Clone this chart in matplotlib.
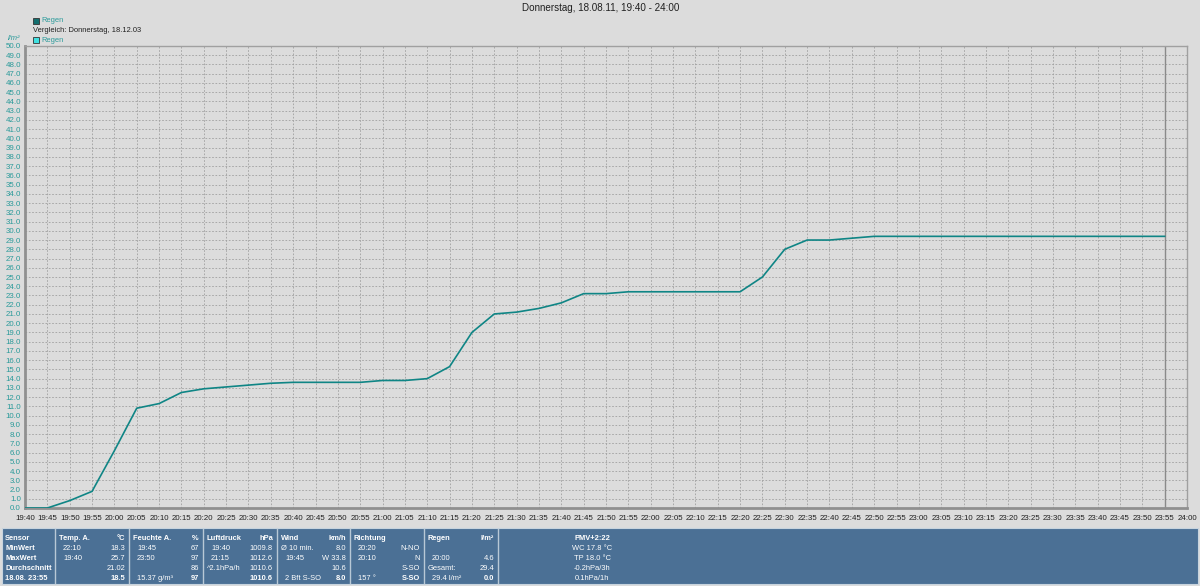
# Imports
import matplotlib
matplotlib.use("Agg")
import matplotlib.pyplot as plt
from matplotlib.patches import Rectangle

# Data
tick_labels = ["19:40", "19:45", "19:50", "19:55", "20:00", "20:05", "20:10", "20:15",
               "20:20", "20:25", "20:30", "20:35", "20:40", "20:45", "20:50", "20:55",
               "21:00", "21:05", "21:10", "21:15", "21:20", "21:25", "21:30", "21:35",
               "21:40", "21:45", "21:50", "21:55", "22:00", "22:05", "22:10", "22:15",
               "22:20", "22:25", "22:30", "22:35", "22:40", "22:45", "22:50", "22:55",
               "23:00", "23:05", "23:10", "23:15", "23:20", "23:25", "23:30", "23:35",
               "23:40", "23:45", "23:50", "23:55", "24:00"]
rain = [0.0, 0.0, 0.8, 1.8, 6.2, 10.8, 11.3, 12.5, 12.9, 13.1, 13.3, 13.5,
        13.6, 13.6, 13.6, 13.6, 13.8, 13.8, 14.0, 15.3, 19.0, 21.0, 21.2, 21.6,
        22.2, 23.2, 23.2, 23.4, 23.4, 23.4, 23.4, 23.4, 23.4, 25.0, 28.0, 29.0,
        29.0, 29.2, 29.4, 29.4, 29.4, 29.4, 29.4, 29.4, 29.4, 29.4, 29.4, 29.4,
        29.4, 29.4, 29.4, 29.4]
y_ticks = [i * 1.0 for i in range(51)]
now_label = "23:55"

# info panel columns: first entry is the header, each entry = (left, right)
panel_cols = [
    [("Temp. A.", "°C"), ("22:10", "18.3"), ("19:40", "25.7"), ("", "21.02"), ("", "18.5")],
    [("Feuchte A.", "%"), ("19:45", "67"), ("23:50", "97"), ("", "86"), ("15.37 g/m³", "97")],
    [("Luftdruck", "hPa"), ("19:40", "1009.8"), ("21:15", "1012.6"), ("^2.1hPa/h", "1010.6"), ("", "1010.6")],
    [("Wind", "km/h"), ("Ø 10 min.", "8.0"), ("19:45", "W 33.8"), ("", "10.6"), ("2 Bft S-SO", "8.0")],
    [("Richtung", ""), ("20:20", "N-NO"), ("20:10", "N"), ("", "S-SO"), ("157 °", "S-SO")],
    [("Regen", "l/m²"), ("", ""), ("20:00", "4.6"), ("Gesamt:", "29.4"), ("29.4 l/m²", "0.0")],
]
row_names = ["Sensor", "MinWert", "MaxWert", "Durchschnitt", "18.08. 23:55"]
extra_lines = ["PMV+2:22", "WC 17.8 °C", "TP 18.0 °C", "-0.2hPa/3h", "0.1hPa/1h"]

# Style
W, H = 1200, 586
BG = "#dcdcdc"
TEAL = "#0f8585"
TEAL_TXT = "#2a9a9a"
PANEL = "#4b7095"
FS_TICK = 5.7
FS = 5.4
plt.rcParams['font.family'] = ['Liberation Sans', 'DejaVu Sans']


def fx(x):
    return x / W


def fy(y):
    return 1 - y / H


fig = plt.figure(figsize=(W / 100, H / 100), dpi=100, facecolor=BG)
ax = fig.add_axes([fx(25), fy(508), fx(1187) - fx(25), fy(46) - fy(508)], facecolor=BG)

x = list(range(len(rain)))
ax.plot(x, rain, color=TEAL, lw=1.2, zorder=3)
ax.axvline(tick_labels.index(now_label), color="#8a8a8a", lw=1.0, zorder=2)

ax.set_xlim(0, len(tick_labels) - 1)
ax.set_ylim(0, 50)
ax.set_xticks(range(len(tick_labels)))
ax.set_xticklabels(tick_labels, fontsize=FS_TICK, color="#202020")
ax.set_yticks(y_ticks)
ax.set_yticklabels(["%.1f" % v for v in y_ticks], fontsize=FS_TICK, color=TEAL_TXT)
ax.tick_params(length=0)
ax.tick_params(axis="x", pad=5)
ax.tick_params(axis="y", pad=3)
ax.grid(True, color="#a0a0a0", lw=0.6, linestyle=(0, (2, 2)))
for s in ["top", "right"]:
    ax.spines[s].set_color("#a0a0a0")
    ax.spines[s].set_linewidth(1.0)
for s in ["left", "bottom"]:
    ax.spines[s].set_color("#909090")
    ax.spines[s].set_linewidth(2.0)

# title and legend
fig.text(fx(601), fy(8), "Donnerstag, 18.08.11, 19:40 - 24:00", ha="center", va="center",
         fontsize=7.1, color="#202020")
fig.patches.append(Rectangle((fx(33), fy(24)), fx(6), fy(18) - fy(24), transform=fig.transFigure,
                             facecolor="#136f6f", edgecolor="#333333", lw=0.6))
fig.text(fx(41), fy(21), "Regen", ha="left", va="center", fontsize=FS, color=TEAL_TXT)
fig.text(fx(33), fy(31), "Vergleich: Donnerstag, 18.12.03", ha="left", va="center",
         fontsize=FS, color="#202020")
fig.patches.append(Rectangle((fx(33), fy(43)), fx(6), fy(37) - fy(43), transform=fig.transFigure,
                             facecolor="#40e0e0", edgecolor="#333333", lw=0.6))
fig.text(fx(41), fy(40), "Regen", ha="left", va="center", fontsize=FS, color=TEAL_TXT)
fig.text(fx(8), fy(39), "l/m²", ha="left", va="center", fontsize=FS, color=TEAL_TXT,
         style="italic")

# info panel
fig.patches.append(Rectangle((fx(2), fy(584)), fx(1196), fy(528) - fy(584),
                             transform=fig.transFigure, facecolor=PANEL,
                             edgecolor="#c8d4de", lw=0.8))
row_y = [539, 548, 558, 568, 578]
for i, name in enumerate(row_names):
    fig.text(fx(5), fy(row_y[i]), name, ha="left", va="center", fontsize=FS,
             color="white", fontweight="bold")

col_x = [55, 129, 203, 277, 350, 424, 498]
for c, col in enumerate(panel_cols):
    x0, x1 = col_x[c], col_x[c + 1]
    fig.add_artist(plt.Line2D([fx(x0), fx(x0)], [fy(529), fy(583)], color="#b8c8d6", lw=1.0))
    for r, (left, right) in enumerate(col):
        bold = r == 0
        indent = 4 if bold or not left[:1].isdigit() else 8
        fig.text(fx(x0 + indent), fy(row_y[r]), left, ha="left", va="center",
                 fontsize=FS, color="white",
                 fontweight="bold" if bold else "normal")
        fig.text(fx(x1 - 4), fy(row_y[r]), right, ha="right", va="center",
                 fontsize=FS, color="white",
                 fontweight="bold" if (bold or r == 4) else "normal")
fig.add_artist(plt.Line2D([fx(498), fx(498)], [fy(529), fy(583)], color="#b8c8d6", lw=1.0))
for r, line in enumerate(extra_lines):
    fig.text(fx(592), fy(row_y[r]), line, ha="center", va="center", fontsize=FS,
             color="white", fontweight="bold" if r == 0 else "normal")

fig.savefig("out.png", dpi=100, facecolor=BG)
